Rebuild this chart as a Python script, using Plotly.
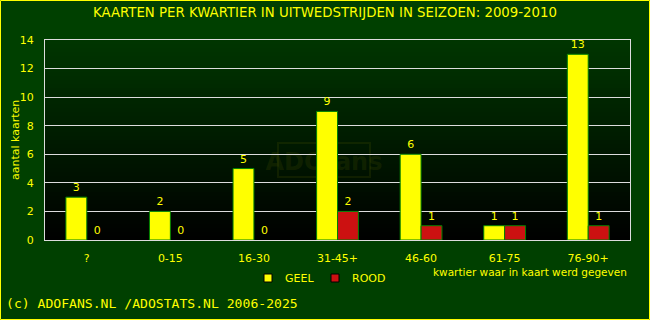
import plotly.graph_objects as go

categories = ["?", "0-15", "16-30", "31-45+", "46-60", "61-75", "76-90+"]
geel = [3, 2, 5, 9, 6, 1, 13]
rood = [0, 0, 0, 2, 1, 1, 1]
y_ticks = [0, 2, 4, 6, 8, 10, 12, 14]
legend_names = ["GEEL", "ROOD"]

W, H = 650, 320
L, R, T, B = 45, 20, 40, 80
pw, ph = W - L - R, H - T - B

def px_x(x):
    return (x - L) / pw

def px_y(y):
    return (H - B - y) / ph

YEL = "#FFFF00"
RED = "#CC1111"
BG = "#004000"
EDGE = "#008000"

def edge_colors(vals):
    return [EDGE if v > 0 else "rgba(0,0,0,0)" for v in vals]

fig = go.Figure()
fig.add_bar(x=categories, y=geel, name="GEEL", marker=dict(color=YEL, line=dict(color=edge_colors(geel), width=1)),
            text=[str(v) for v in geel], textposition="outside", cliponaxis=False,
            textfont=dict(color=YEL, size=11, family="DejaVu Sans"), showlegend=False)
fig.add_bar(x=categories, y=rood, name="ROOD", marker=dict(color=RED, line=dict(color=edge_colors(rood), width=1)),
            text=[str(v) for v in rood], textposition="outside", cliponaxis=False,
            textfont=dict(color=YEL, size=11, family="DejaVu Sans"), showlegend=False)

shapes = []
# gradient background strips
n = 50
for i in range(n):
    f = (i + 0.5) / n
    g = int(round(54 * f))
    shapes.append(dict(type="rect", xref="paper", yref="paper", x0=0, x1=1,
                       y0=i / n, y1=(i + 1) / n, line=dict(width=0),
                       fillcolor=f"rgb(0,{g},0)", layer="below"))
# watermark
wm = "rgba(80,90,0,0.2)"
shapes.append(dict(type="rect", xref="paper", yref="paper",
                   x0=px_x(278), x1=px_x(370), y0=px_y(177), y1=px_y(143),
                   line=dict(color=wm, width=2), layer="between",
                   label=dict(text="<b>ADOfans</b>", font=dict(color=wm, size=24, family="DejaVu Sans"),
                              textposition="middle center")))
# outer yellow border
shapes.append(dict(type="rect", xref="paper", yref="paper",
                   x0=px_x(0.5), x1=px_x(W - 0.5), y0=px_y(H - 0.5), y1=px_y(0.5),
                   line=dict(color=YEL, width=1), layer="above"))

annotations = [
    dict(text="KAARTEN PER KWARTIER IN UITWEDSTRIJDEN IN SEIZOEN: 2009-2010", xref="paper", yref="paper",
         x=px_x(325), y=px_y(12), xanchor="center", yanchor="middle", showarrow=False,
         font=dict(size=13.3, color=YEL)),
    dict(text="aantal kaarten", xref="paper", yref="paper", x=px_x(15), y=px_y(140), textangle=-90,
         xanchor="center", yanchor="middle", showarrow=False, font=dict(size=11, color=YEL)),
    dict(text="kwartier waar in kaart werd gegeven", xref="paper", yref="paper", x=px_x(629), y=px_y(272),
         xanchor="right", yanchor="middle", showarrow=False, font=dict(size=10.5, color=YEL)),
    dict(text="(c) ADOFANS.NL /ADOSTATS.NL 2006-2025", xref="paper", yref="paper", x=px_x(4), y=px_y(303),
         xanchor="left", yanchor="middle", showarrow=False,
         font=dict(size=13.1, color=YEL, family="DejaVu Sans Mono")),
]

# custom legend
leg_x = [268, 335]
for nm, col, lx in zip(legend_names, [YEL, RED], leg_x):
    shapes.append(dict(type="rect", xref="paper", yref="paper",
                       x0=px_x(lx - 4), x1=px_x(lx + 4), y0=px_y(282), y1=px_y(274),
                       line=dict(color="black", width=1), fillcolor=col, layer="above"))
    annotations.append(dict(text=nm, xref="paper", yref="paper", x=px_x(lx + 15), y=px_y(278),
                            xanchor="left", yanchor="middle", showarrow=False, font=dict(size=11, color=YEL)))

fig.update_layout(
    width=W, height=H, margin=dict(l=L, r=R, t=T, b=B),
    paper_bgcolor=BG, plot_bgcolor="#000000",
    barmode="group", bargap=0.5, bargroupgap=0,
    font=dict(family="DejaVu Sans", color=YEL, size=11),
    shapes=shapes,
    showlegend=False,
    xaxis=dict(showgrid=False, showline=True, linecolor="#DDDDDD", linewidth=1, mirror=True,
               ticks="", ticklabelstandoff=8, tickfont=dict(size=11, color=YEL)),
    yaxis=dict(range=[0, 14], tickvals=y_ticks, showgrid=True, gridcolor="#DDDDDD", gridwidth=1,
               showline=True, linecolor="#DDDDDD", linewidth=1, mirror=True, zeroline=False,
               ticks="", ticklabelstandoff=8, tickfont=dict(size=11, color=YEL)),
    annotations=annotations,
)

fig.write_html("out.html")
